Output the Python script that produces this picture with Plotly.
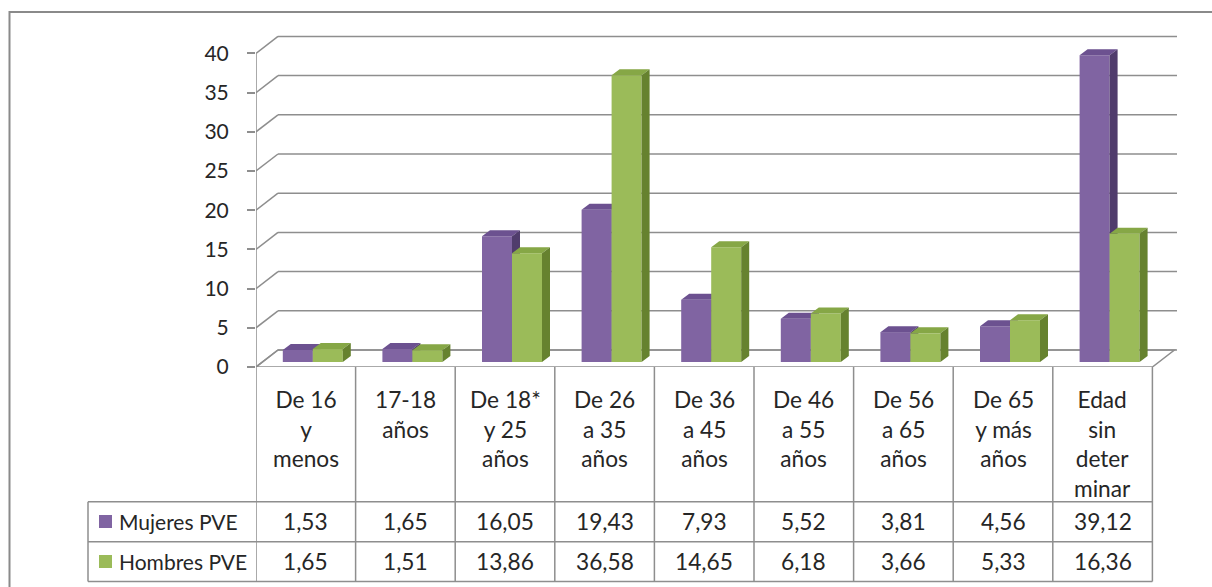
import plotly.graph_objects as go

# ---- data -------------------------------------------------------------
categorias = [
    "De 16<br>y<br>menos",
    "17-18<br>años",
    "De 18*<br>y 25<br>años",
    "De 26<br>a 35<br>años",
    "De 36<br>a 45<br>años",
    "De 46<br>a 55<br>años",
    "De 56<br>a 65<br>años",
    "De 65<br>y más<br>años",
    "Edad<br>sin<br>deter<br>minar",
]
mujeres = [1.53, 1.65, 16.05, 19.43, 7.93, 5.52, 3.81, 4.56, 39.12]
hombres = [1.65, 1.51, 13.86, 36.58, 14.65, 6.18, 3.66, 5.33, 16.36]
serie_mujeres = "Mujeres PVE"
serie_hombres = "Hombres PVE"
y_ticks = [0, 5, 10, 15, 20, 25, 30, 35, 40]

# ---- styling ----------------------------------------------------------
W, H = 1212, 587
FONT = "Lato"
TXT = "#262626"
GRID = "#8e8e8e"
PURPLE = dict(front="#8064a2", top="#6c5190", side="#503c6c")
GREEN = dict(front="#9bbb59", top="#86a746", side="#66822f")

COL = 99.6          # pixels per category column
PPU = 7.84          # pixels per value unit
X0_PX, XR_PX = 256, 1180
Y0_PX, YT_PX = 367, 30

# perspective offsets (wall depth, bar depth, bar placement)
dx_wall, dy_wall = 22 / COL, 17 / PPU
dx_bar, dy_bar = 8 / COL, 6 / PPU
bar_base = 5 / PPU
bar_shift = 7 / COL
bar_w = 30 / COL
x_end_wall = -0.5 + (1177 - X0_PX) / COL
x_end_floor = len(categorias) - 0.5


def px(x):
    return x / W


def py(y):
    return 1 - y / H


xs = list(range(len(categorias)))


def faces(values, offset):
    """Top and side polygons of each 3D column, as None-separated paths."""
    tx, ty, sx, sy = [], [], [], []
    for i, v in zip(xs, values):
        xl = i + bar_shift + offset
        xr = xl + bar_w
        top = bar_base + v
        tx += [xl, xl + dx_bar, xr + dx_bar, xr, xl, None]
        ty += [top, top + dy_bar, top + dy_bar, top, top, None]
        sx += [xr, xr + dx_bar, xr + dx_bar, xr, xr, None]
        sy += [bar_base, bar_base + dy_bar, top + dy_bar, top, bar_base, None]
    return tx, ty, sx, sy


fig = go.Figure()

for values, name, col, offset, xa, ya in [
    (mujeres, serie_mujeres, PURPLE, -bar_w, "x", "y"),
    (hombres, serie_hombres, GREEN, 0.0, "x2", "y2"),
]:
    fig.add_trace(go.Bar(
        x=[i + bar_shift for i in xs], y=values, base=bar_base,
        width=bar_w, offset=offset, name=name,
        marker=dict(color=col["front"], line=dict(width=0)),
        xaxis=xa, yaxis=ya, hoverinfo="skip", showlegend=False,
    ))
    tx, ty, sx, sy = faces(values, offset)
    for fx, fy, c in [(tx, ty, col["top"]), (sx, sy, col["side"])]:
        fig.add_trace(go.Scatter(
            x=fx, y=fy, mode="lines", fill="toself", fillcolor=c,
            line=dict(width=0, color=c), xaxis=xa, yaxis=ya,
            hoverinfo="skip", showlegend=False,
        ))

shapes = []
# floor
shapes.append(dict(
    type="path", xref="x", yref="y", layer="below",
    path=(f"M {-0.5} 0 L {x_end_floor} 0 L {x_end_floor + dx_wall} {dy_wall} "
          f"L {-0.5 + dx_wall} {dy_wall} Z"),
    fillcolor="white", line=dict(color=GRID, width=1.5),
))
# back-wall gridlines with their diagonal return to the value axis
for v in y_ticks:
    shapes.append(dict(type="line", xref="x", yref="y", layer="below",
                       x0=-0.5, y0=v, x1=-0.5 + dx_wall, y1=v + dy_wall,
                       line=dict(color=GRID, width=1.5)))
    shapes.append(dict(type="line", xref="x", yref="y", layer="below",
                       x0=-0.5 + dx_wall, y0=v + dy_wall, x1=x_end_wall, y1=v + dy_wall,
                       line=dict(color=GRID, width=1.5)))
# value axis line
shapes.append(dict(type="line", xref="x", yref="y", x0=-0.5, x1=-0.5,
                   y0=0, y1=max(y_ticks), line=dict(color=GRID, width=1.5)))

# data table grid
row_lines = [501.7, 541.7, 581.5]
for y in row_lines:
    shapes.append(dict(type="line", xref="paper", yref="paper",
                       x0=px(88), x1=px(X0_PX + COL * len(categorias)),
                       y0=py(y), y1=py(y), line=dict(color=GRID, width=1.5)))
for k in range(len(categorias) + 1):
    shapes.append(dict(type="line", xref="x", yref="paper",
                       x0=k - 0.5, x1=k - 0.5, y0=py(Y0_PX), y1=py(row_lines[-1]),
                       line=dict(color=GRID, width=1.5)))
shapes.append(dict(type="line", xref="paper", yref="paper", x0=px(88), x1=px(88),
                   y0=py(row_lines[0]), y1=py(row_lines[-1]),
                   line=dict(color=GRID, width=1.5)))
# legend keys inside the table
for yc, c in [(521.5, PURPLE["front"]), (561.5, GREEN["front"])]:
    shapes.append(dict(type="rect", xref="paper", yref="paper",
                       x0=px(99), x1=px(112), y0=py(yc - 6.5), y1=py(yc + 6.5),
                       fillcolor=c, line=dict(width=0)))
# chart frame
shapes.append(dict(type="rect", xref="paper", yref="paper",
                   x0=px(9.5), x1=px(1230), y0=py(12), y1=py(620),
                   line=dict(color="#8a8a8a", width=2), fillcolor="rgba(0,0,0,0)"))

annotations = []
tf = dict(family=FONT, size=22.7, color=TXT)
for i, lab in zip(xs, categorias):
    annotations.append(dict(x=i, y=py(384), xref="x", yref="paper", text=lab,
                            showarrow=False, xanchor="center", yanchor="top",
                            font=tf, align="center"))
for yc, values in [(521.5, mujeres), (561.5, hombres)]:
    for i, v in zip(xs, values):
        annotations.append(dict(x=i, y=py(yc), xref="x", yref="paper",
                                text=f"{v:.2f}".replace(".", ","),
                                showarrow=False, xanchor="center", yanchor="middle",
                                font=tf))
for yc, name in [(521.5, serie_mujeres), (561.5, serie_hombres)]:
    annotations.append(dict(x=px(117), y=py(yc), xref="paper", yref="paper",
                            text=name, showarrow=False, xanchor="left",
                            yanchor="middle", font=dict(family=FONT, size=21, color=TXT)))

x_dom = [px(X0_PX), px(XR_PX)]
y_dom = [py(Y0_PX), py(YT_PX)]
x_rng = [-0.5, -0.5 + (XR_PX - X0_PX) / COL]
y_rng = [0, (Y0_PX - YT_PX) / PPU]

fig.update_layout(
    width=W, height=H,
    margin=dict(l=0, r=0, t=0, b=0, autoexpand=False),
    paper_bgcolor="white", plot_bgcolor="white",
    showlegend=False,
    shapes=shapes, annotations=annotations,
    xaxis=dict(domain=x_dom, range=x_rng, visible=False, fixedrange=True,
               automargin=False),
    yaxis=dict(domain=y_dom, range=y_rng, tickvals=y_ticks,
               ticks="outside", ticklen=8, tickwidth=1.5, tickcolor=GRID,
               showgrid=False, zeroline=False, showline=False,
               ticklabelstandoff=14, automargin=False,
               tickfont=dict(family=FONT, size=21, color=TXT)),
    xaxis2=dict(domain=x_dom, range=x_rng, visible=False, overlaying="x",
                automargin=False),
    yaxis2=dict(domain=y_dom, range=y_rng, visible=False, overlaying="y",
                automargin=False),
)

fig.write_html("out.html")
